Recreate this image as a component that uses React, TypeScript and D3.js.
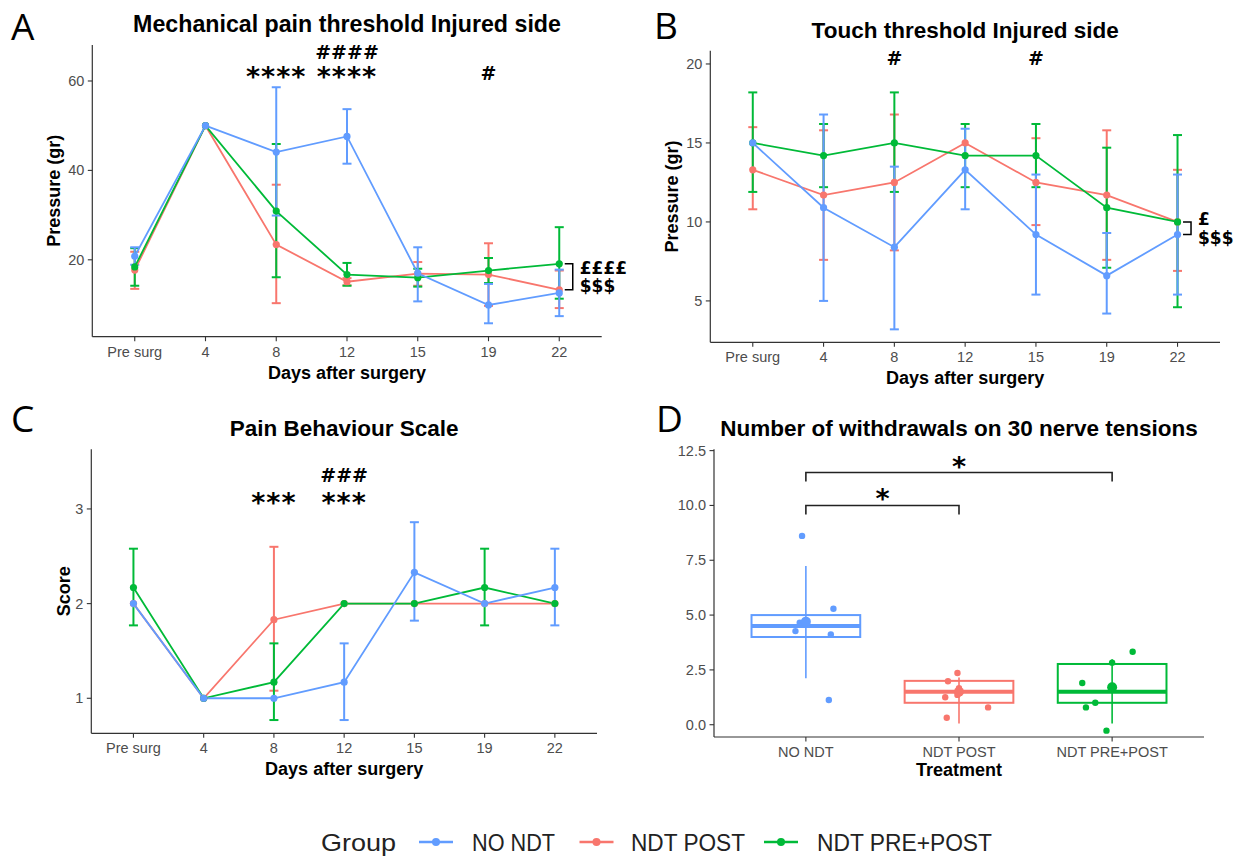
import React from 'react';
import * as d3 from 'd3';

const DAYS = ['Pre surg', '4', '8', '12', '15', '19', '22'];
const GROUPS = ['NO NDT', 'NDT POST', 'NDT PRE+POST'];
const GROUP_COLORS = ['#619CFF', '#F8766D', '#00BA38'];

// A - mechanical pain threshold, injured side (gr)
const painNoNdt = [20.8, 50, 44.1, 47.6, 17.0, 9.9, 12.6];
const painNoNdtLo = [18.9, null, 29.9, 41.5, 10.7, 5.8, 7.4];
const painNoNdtHi = [22.8, null, 58.6, 53.7, 22.8, 14.6, 17.8];
const painPost = [17.7, 50, 23.4, 15.1, 16.9, 16.7, 13.3];
const painPostLo = [13.5, null, 10.3, 14.3, 14.2, 9.7, 9.2];
const painPostHi = [21.8, null, 36.8, 15.9, 19.5, 23.7, 17.6];
const painPrePost = [18.4, 50, 30.9, 16.7, 16.0, 17.6, 19.1];
const painPrePostLo = [14.2, null, 16.1, 14.2, 14.0, 14.8, 11.3];
const painPrePostHi = [22.6, null, 45.9, 19.3, 18.0, 20.4, 27.3];
const painTicks = [20, 40, 60];
const painMarks = [
  { day: '8', y: 62.1, text: '****' },
  { day: '12', y: 62.1, text: '****' },
  { day: '12', y: 66.5, text: '####' },
  { day: '19', y: 61.7, text: '#' },
];
const painBracket = { from: 19.1, to: 13.3, labels: ['££££', '$$$'] };

// B - touch threshold, injured side (gr)
const touchNoNdt = [15, 10.9, 8.4, 13.3, 9.2, 6.6, 9.2];
const touchNoNdtLo = [null, 5.0, 3.2, 10.8, 5.4, 4.2, 5.4];
const touchNoNdtHi = [null, 16.8, 13.5, 15.9, 13.0, 9.3, 13.0];
const touchPost = [13.3, 11.7, 12.5, 15.0, 12.5, 11.7, 10.0];
const touchPostLo = [10.8, 7.6, 8.2, null, 9.8, 7.6, 6.9];
const touchPostHi = [16.0, 15.8, 16.8, null, 15.3, 15.8, 13.3];
const touchPrePost = [15, 14.2, 15, 14.2, 14.2, 10.9, 10.0];
const touchPrePostLo = [11.9, 12.2, 11.9, 12.2, 12.2, 7.1, 4.6];
const touchPrePostHi = [18.2, 16.2, 18.2, 16.2, 16.2, 14.7, 15.5];
const touchTicks = [5, 10, 15, 20];
const touchMarks = [
  { day: '8', y: 20.4, text: '#' },
  { day: '15', y: 20.4, text: '#' },
];
const touchBracket = { from: 10.0, to: 9.2, labels: ['£', '$$$'] };

// C - pain behaviour scale
const scoreNoNdt = [2, 1, 1, 1.17, 2.33, 2, 2.17];
const scoreNoNdtLo = [null, null, null, 0.77, 1.82, null, 1.77];
const scoreNoNdtHi = [null, null, null, 1.58, 2.86, null, 2.58];
const scorePost = [2, 1, 1.83, 2, 2, 2, 2];
const scorePostLo = [null, null, 1.08, null, null, null, null];
const scorePostHi = [null, null, 2.6, null, null, null, null];
const scorePrePost = [2.17, 1, 1.17, 2, 2, 2.17, 2];
const scorePrePostLo = [1.77, null, 0.77, null, null, 1.77, null];
const scorePrePostHi = [2.58, null, 1.58, null, null, 2.58, null];
const scoreTicks = [1, 2, 3];
const scoreMarks = [
  { day: '8', y: 3.12, text: '***' },
  { day: '12', y: 3.12, text: '***' },
  { day: '12', y: 3.36, text: '###' },
];

// D - withdrawals on 30 nerve tensions
const wdNoNdt = [8.61, 5.29, 4.65, 4.65, 4.27, 4.12, 1.13];
const wdNoNdtJitter = [-0.025, 0.18, -0.04, -0.012, -0.068, 0.163, 0.15];
const wdPost = [2.36, 1.98, 1.25, 0.79, 0.32, 1.66, 1.36];
const wdPostJitter = [-0.01, -0.072, -0.09, 0.19, -0.08, 0.0, -0.01];
const wdPrePost = [3.33, 2.83, 1.9, 1.0, 0.79, -0.27, 1.71];
const wdPrePostJitter = [0.134, 0.0, -0.195, -0.11, -0.171, -0.037, 0.0];
const wdQ1 = [4.0, 1.0, 1.0];
const wdMedian = [4.5, 1.5, 1.5];
const wdQ3 = [5.0, 2.0, 2.77];
const wdMean = [4.7, 1.5, 1.71];
const wdLineLo = [2.12, 0.05, 0.06];
const wdLineHi = [7.24, 2.15, 2.98];
const wdTicks = [0, 2.5, 5, 7.5, 10, 12.5];
const wdComparisons = [
  { a: 'NO NDT', b: 'NDT POST', y: 10.0, label: '*' },
  { a: 'NO NDT', b: 'NDT PRE+POST', y: 11.5, label: '*' },
];

const SANS = 'Liberation Sans, Arial, sans-serif';
const MARK_FONT = 'DejaVu Sans, sans-serif';
const AXIS = '#333333';
const TICK_TEXT = '#4D4D4D';

type Series = { color: string; mean: number[]; lo: (number | null)[]; hi: (number | null)[] };

// NDT POST drawn first, NO NDT ends on top
const orderSeries = (noNdt: Series, post: Series, prePost: Series) => [post, prePost, noNdt];

function markBaseline(text: string, yPix: number) {
  return text.startsWith('*') ? yPix + 14 : yPix + 7;
}

function LinePanel(props: any) {
  const { x0, x1, yTop, yBot, domain, ticks, title, titleY, titleSize, yTitle, yTitleX, series, marks, bracket, letter, letterX, letterY } = props;
  const x = d3.scalePoint<string>().domain(DAYS).range([x0, x1]).padding(0.6);
  const y = d3.scaleLinear().domain(domain).range([yBot, yTop]);
  const line = d3
    .line<number>()
    .x((_, i) => x(DAYS[i]) as number)
    .y(d => y(d));
  const cap = 4.5;
  const midX = (x0 + x1) / 2;
  const lastX = x(DAYS[DAYS.length - 1]) as number;

  return (
    <g>
      <text x={letterX} y={letterY} fontFamily="Open Sans, sans-serif" fontSize={37} fill="#000">
        {letter}
      </text>
      <text x={midX} y={titleY} textAnchor="middle" fontFamily={SANS} fontWeight="bold" fontSize={titleSize || 22.5}>
        {title}
      </text>
      {/* axes */}
      <line x1={x0} x2={x0} y1={yTop} y2={yBot} stroke={AXIS} strokeWidth={1.2} />
      <line x1={x0} x2={x1} y1={yBot} y2={yBot} stroke={AXIS} strokeWidth={1.2} />
      {ticks.map((t: number) => (
        <g key={'yt' + t}>
          <line x1={x0 - 4.5} x2={x0} y1={y(t)} y2={y(t)} stroke={AXIS} strokeWidth={1.1} />
          <text x={x0 - 8} y={y(t) + 5} textAnchor="end" fontFamily={SANS} fontSize={14.5} fill={TICK_TEXT}>
            {t}
          </text>
        </g>
      ))}
      {DAYS.map(d => (
        <g key={'xt' + d}>
          <line x1={x(d)} x2={x(d)} y1={yBot} y2={yBot + 4.5} stroke={AXIS} strokeWidth={1.1} />
          <text x={x(d)} y={yBot + 20} textAnchor="middle" fontFamily={SANS} fontSize={14.5} fill={TICK_TEXT}>
            {d}
          </text>
        </g>
      ))}
      <text x={midX} y={yBot + 42} textAnchor="middle" fontFamily={SANS} fontWeight="bold" fontSize={18}>
        Days after surgery
      </text>
      <text
        transform={`translate(${yTitleX},${(yTop + yBot) / 2}) rotate(-90)`}
        textAnchor="middle"
        fontFamily={SANS}
        fontWeight="bold"
        fontSize={18}
      >
        {yTitle}
      </text>
      {/* error bars */}
      {series.map((s: Series, si: number) =>
        s.mean.map((m, i) => {
          const lo = s.lo[i];
          const hi = s.hi[i];
          if (lo == null || hi == null) return null;
          const cx = x(DAYS[i]) as number;
          return (
            <g key={`eb${si}-${i}`} stroke={s.color} strokeWidth={2}>
              <line x1={cx} x2={cx} y1={y(lo)} y2={y(hi)} />
              <line x1={cx - cap} x2={cx + cap} y1={y(lo)} y2={y(lo)} />
              <line x1={cx - cap} x2={cx + cap} y1={y(hi)} y2={y(hi)} />
            </g>
          );
        })
      )}
      {series.map((s: Series, si: number) => (
        <path key={'ln' + si} d={line(s.mean) || ''} fill="none" stroke={s.color} strokeWidth={1.8} />
      ))}
      {series.map((s: Series, si: number) =>
        s.mean.map((m, i) => (
          <circle key={`pt${si}-${i}`} cx={x(DAYS[i])} cy={y(m)} r={3.6} fill={s.color} />
        ))
      )}
      {marks.map((mk: any, i: number) => (
        <text
          key={'mk' + i}
          x={x(mk.day)}
          y={markBaseline(mk.text, y(mk.y))}
          textAnchor="middle"
          fontFamily={MARK_FONT}
          fontWeight="bold"
          fontSize={mk.text.startsWith('*') ? 27 : 19}
          letterSpacing={mk.text.startsWith('*') ? 1 : 0}
        >
          {mk.text}
        </text>
      ))}
      {bracket && (
        <g>
          <path
            d={`M${lastX + 5.5},${y(bracket.from)} H${lastX + 13.5} V${y(bracket.to)} H${lastX + 5.5}`}
            fill="none"
            stroke="#000"
            strokeWidth={1.5}
          />
          <text
            x={lastX + 20.5}
            y={(y(bracket.from) + y(bracket.to)) / 2 - 3}
            fontFamily={MARK_FONT}
            fontWeight="bold"
            fontSize={17}
          >
            {bracket.labels[0]}
          </text>
          <text
            x={lastX + 20.5}
            y={(y(bracket.from) + y(bracket.to)) / 2 + 15.5}
            fontFamily={MARK_FONT}
            fontWeight="bold"
            fontSize={17}
          >
            {bracket.labels[1]}
          </text>
        </g>
      )}
    </g>
  );
}

function BoxPanel() {
  const x0 = 714;
  const x1 = 1204;
  const yTop = 449.3;
  const yBot = 737;
  const x = d3.scalePoint<string>().domain(GROUPS).range([x0, x1]).padding(0.6);
  const y = d3.scaleLinear().domain([-0.56, 12.56]).range([yBot, yTop]);
  const step = x.step();
  const halfBox = (step * 0.71) / 2;
  const values = [wdNoNdt, wdPost, wdPrePost];
  const jitters = [wdNoNdtJitter, wdPostJitter, wdPrePostJitter];
  const midX = (x0 + x1) / 2;

  return (
    <g>
      <text x={656} y={432} fontFamily="Open Sans, sans-serif" fontSize={37}>
        D
      </text>
      <text x={midX} y={436} textAnchor="middle" fontFamily={SANS} fontWeight="bold" fontSize={22.5}>
        Number of withdrawals on 30 nerve tensions
      </text>
      <line x1={x0} x2={x0} y1={yTop} y2={yBot} stroke={AXIS} strokeWidth={1.2} />
      <line x1={x0} x2={x1} y1={yBot} y2={yBot} stroke={AXIS} strokeWidth={1.2} />
      {wdTicks.map(t => (
        <g key={'yt' + t}>
          <line x1={x0 - 4.5} x2={x0} y1={y(t)} y2={y(t)} stroke={AXIS} strokeWidth={1.1} />
          <text x={x0 - 8} y={y(t) + 5} textAnchor="end" fontFamily={SANS} fontSize={14.5} fill={TICK_TEXT}>
            {d3.format('.1f')(t)}
          </text>
        </g>
      ))}
      {GROUPS.map(g => (
        <g key={'xt' + g}>
          <line x1={x(g)} x2={x(g)} y1={yBot} y2={yBot + 4.5} stroke={AXIS} strokeWidth={1.1} />
          <text x={x(g)} y={yBot + 20} textAnchor="middle" fontFamily={SANS} fontSize={14.5} fill={TICK_TEXT}>
            {g}
          </text>
        </g>
      ))}
      <text x={midX} y={yBot + 39} textAnchor="middle" fontFamily={SANS} fontWeight="bold" fontSize={18}>
        Treatment
      </text>
      {GROUPS.map((g, gi) => {
        const cx = x(g) as number;
        const color = GROUP_COLORS[gi];
        return (
          <g key={'box' + g}>
            <rect
              x={cx - halfBox}
              y={y(wdQ3[gi])}
              width={halfBox * 2}
              height={y(wdQ1[gi]) - y(wdQ3[gi])}
              fill="none"
              stroke={color}
              strokeWidth={2}
            />
            <line x1={cx - halfBox} x2={cx + halfBox} y1={y(wdMedian[gi])} y2={y(wdMedian[gi])} stroke={color} strokeWidth={4} />
            <line x1={cx} x2={cx} y1={y(wdLineLo[gi])} y2={y(wdLineHi[gi])} stroke={color} strokeWidth={1.6} />
            {values[gi].map((v, i) => (
              <circle key={i} cx={cx + jitters[gi][i] * step} cy={y(v)} r={3.2} fill={color} />
            ))}
            <circle cx={cx} cy={y(wdMean[gi])} r={5} fill={color} />
          </g>
        );
      })}
      {wdComparisons.map((c, i) => {
        const xa = x(c.a) as number;
        const xb = x(c.b) as number;
        const yy = y(c.y);
        return (
          <g key={'cmp' + i}>
            <path d={`M${xa},${yy + 9} V${yy} H${xb} V${yy + 9}`} fill="none" stroke="#222" strokeWidth={1.6} />
            <text x={(xa + xb) / 2} y={yy + 3} textAnchor="middle" fontFamily={MARK_FONT} fontWeight="bold" fontSize={27}>
              {c.label}
            </text>
          </g>
        );
      })}
    </g>
  );
}

function Legend() {
  const keys = [436, 596.5, 781];
  const labels = [472, 631, 817];
  const labelWidths = [83, 114, 175];
  const cy = 842;
  const base = 851;
  return (
    <g>
      <text x={321} y={base} fontFamily={SANS} fontSize={24} fill="#222" textLength={75} lengthAdjust="spacingAndGlyphs">
        Group
      </text>
      {GROUPS.map((g, i) => (
        <g key={g}>
          <line x1={keys[i] - 17} x2={keys[i] + 17} y1={cy} y2={cy} stroke={GROUP_COLORS[i]} strokeWidth={2.6} />
          <circle cx={keys[i]} cy={cy} r={4} fill={GROUP_COLORS[i]} />
          <text
            x={labels[i]}
            y={base}
            fontFamily={SANS}
            fontSize={24}
            fill="#222"
            textLength={labelWidths[i]}
            lengthAdjust="spacingAndGlyphs"
          >
            {g}
          </text>
        </g>
      ))}
    </g>
  );
}

export default function App() {
  const mk = (mean: number[], lo: (number | null)[], hi: (number | null)[], gi: number): Series => ({
    color: GROUP_COLORS[gi],
    mean,
    lo,
    hi,
  });
  const painSeries = orderSeries(
    mk(painNoNdt, painNoNdtLo, painNoNdtHi, 0),
    mk(painPost, painPostLo, painPostHi, 1),
    mk(painPrePost, painPrePostLo, painPrePostHi, 2)
  );
  const touchSeries = orderSeries(
    mk(touchNoNdt, touchNoNdtLo, touchNoNdtHi, 0),
    mk(touchPost, touchPostLo, touchPostHi, 1),
    mk(touchPrePost, touchPrePostLo, touchPrePostHi, 2)
  );
  const scoreSeries = orderSeries(
    mk(scoreNoNdt, scoreNoNdtLo, scoreNoNdtHi, 0),
    mk(scorePost, scorePostLo, scorePostHi, 1),
    mk(scorePrePost, scorePrePostLo, scorePrePostHi, 2)
  );

  return (
    <svg
      width={1247}
      height={858}
      viewBox="0 0 1247 858"
      style={{ position: 'absolute', left: 0, top: 0, background: '#fff' }}
    >
      <rect width={1247} height={858} fill="#fff" />
      <LinePanel
        x0={92.3}
        x1={601.7}
        yTop={45}
        yBot={336.7}
        domain={[2.8, 68.05]}
        ticks={painTicks}
        title="Mechanical pain threshold Injured side"
        titleY={32}
        titleSize={23.2}
        yTitle="Pressure (gr)"
        yTitleX={59.5}
        series={painSeries}
        marks={painMarks}
        bracket={painBracket}
        letter="A"
        letterX={11}
        letterY={40}
      />
      <LinePanel
        x0={710.3}
        x1={1220}
        yTop={50.7}
        yBot={342.3}
        domain={[2.38, 20.84]}
        ticks={touchTicks}
        title="Touch threshold Injured side"
        titleY={37.5}
        yTitle="Pressure (gr)"
        yTitleX={678}
        series={touchSeries}
        marks={touchMarks}
        bracket={touchBracket}
        letter="B"
        letterX={654}
        letterY={39}
      />
      <LinePanel
        x0={91.3}
        x1={597}
        yTop={449.3}
        yBot={733.3}
        domain={[0.63, 3.63]}
        ticks={scoreTicks}
        title="Pain Behaviour Scale"
        titleY={436}
        yTitle="Score"
        yTitleX={69.5}
        series={scoreSeries}
        marks={scoreMarks}
        bracket={null}
        letter="C"
        letterX={11}
        letterY={432}
      />
      <BoxPanel />
      <Legend />
    </svg>
  );
}
